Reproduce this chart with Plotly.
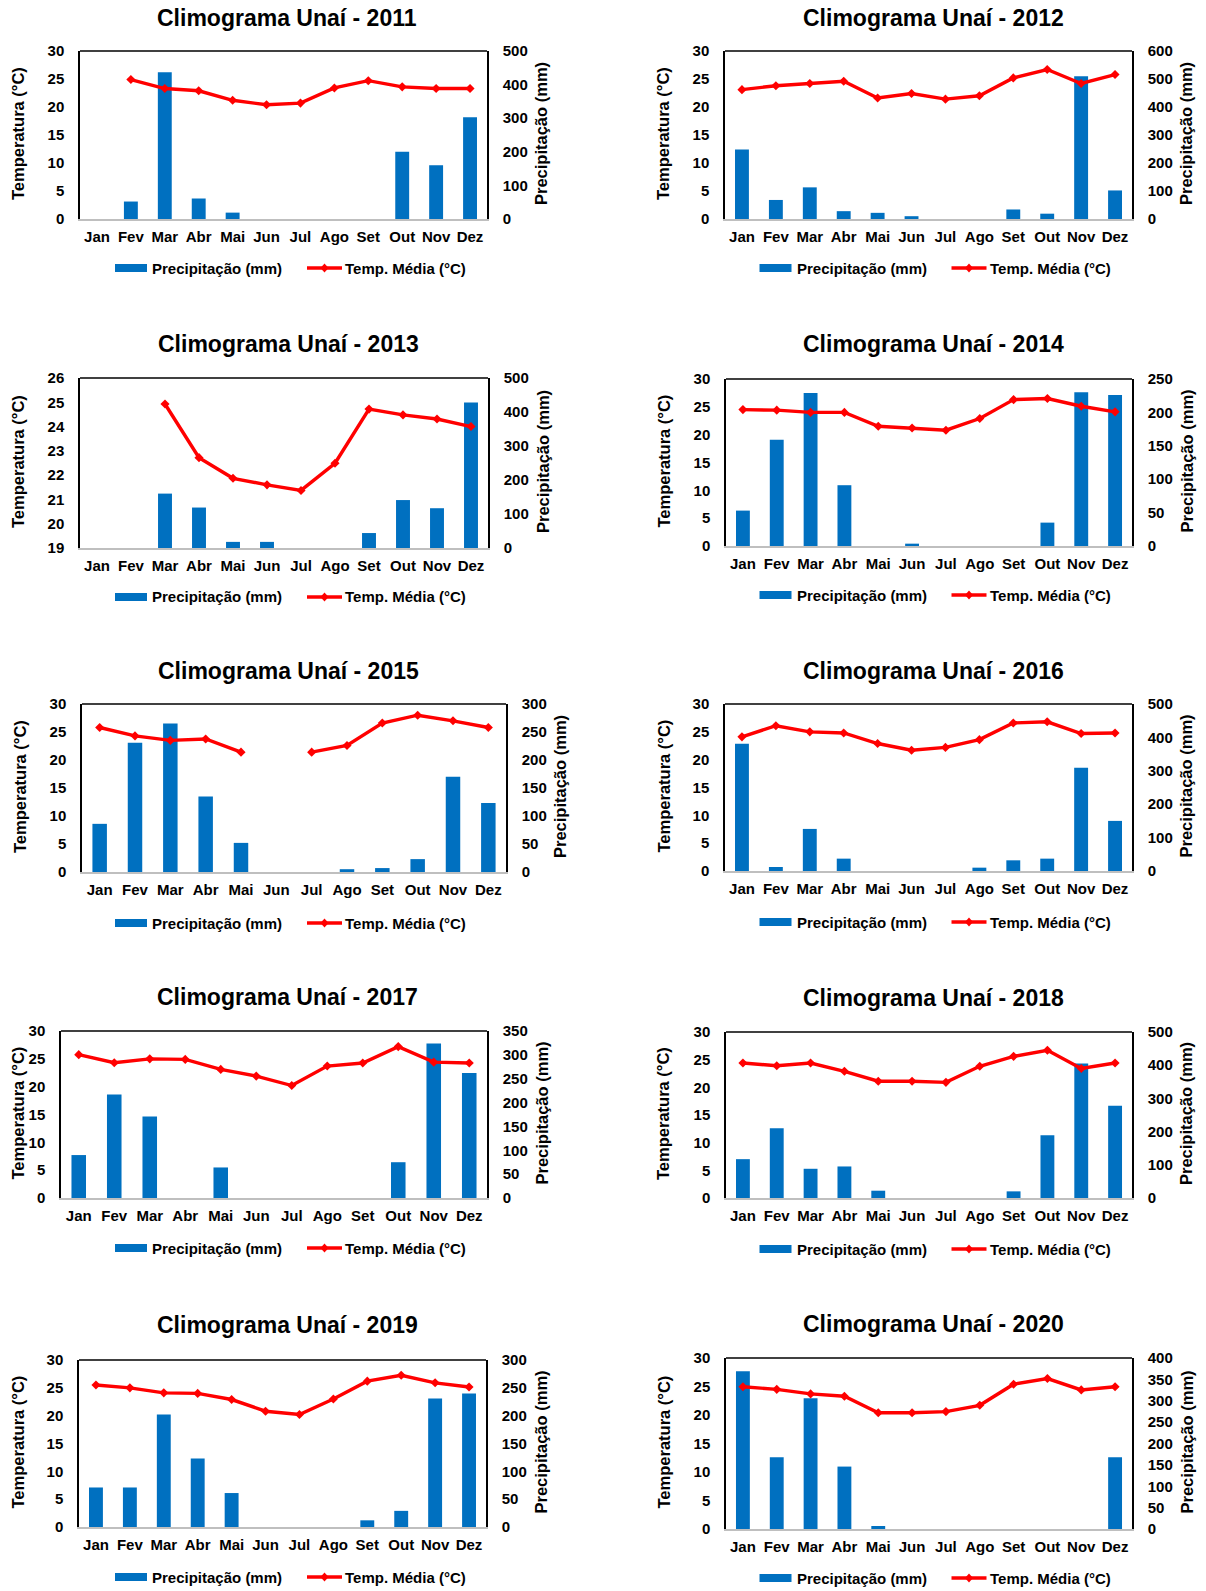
import plotly.graph_objects as go

# ---------------------------------------------------------------------------
# Dados mensais de Unaí (2011-2020): temperatura média (°C) e precipitação (mm)
# ---------------------------------------------------------------------------
months = ["Jan", "Fev", "Mar", "Abr", "Mai", "Jun", "Jul", "Ago", "Set", "Out", "Nov", "Dez"]
years = [2011, 2012, 2013, 2014, 2015, 2016, 2017, 2018, 2019, 2020]

temp_2011 = [None, 24.9, 23.3, 22.9, 21.2, 20.4, 20.7, 23.4, 24.7, 23.6, 23.3, 23.3]
prec_2011 = [0, 52, 437, 61, 19, 0, 0, 0, 0, 200, 160, 303]

temp_2012 = [23.1, 23.8, 24.2, 24.6, 21.6, 22.4, 21.4, 22.0, 25.2, 26.7, 24.2, 25.8]
prec_2012 = [248, 68, 113, 28, 22, 10, 0, 0, 34, 19, 510, 102]

temp_2013 = [None, None, 24.93, 22.72, 21.87, 21.6, 21.37, 22.49, 24.72, 24.48, 24.31, 24.0]
prec_2013 = [0, 0, 160, 119, 18, 18, 0, 0, 44, 141, 117, 428]

temp_2014 = [24.5, 24.4, 24.0, 24.0, 21.5, 21.2, 20.8, 22.9, 26.3, 26.5, 25.1, 24.1]
prec_2014 = [53, 159, 229, 91, 0, 3.5, 0, 0, 0, 35, 230, 226]

temp_2015 = [25.8, 24.3, 23.5, 23.75, 21.4, None, 21.4, 22.6, 26.6, 28.0, 27.0, 25.8]
prec_2015 = [86, 231, 265, 135, 52, 0, 0, 5, 7, 23, 170, 123]

temp_2016 = [24.1, 26.1, 25.0, 24.8, 22.9, 21.7, 22.2, 23.6, 26.6, 26.8, 24.7, 24.8]
prec_2016 = [381, 12, 126, 37, 0, 0, 0, 10, 32, 37, 309, 150]

temp_2017 = [25.75, 24.3, 25.0, 24.9, 23.1, 21.9, 20.2, 23.7, 24.25, 27.2, 24.4, 24.25]
prec_2017 = [90, 217, 171, 0, 64, 0, 0, 0, 0, 75, 324, 262]

temp_2018 = [24.4, 23.9, 24.4, 22.9, 21.1, 21.1, 20.9, 23.8, 25.6, 26.7, 23.4, 24.4]
prec_2018 = [117, 210, 88, 95, 22, 0, 0, 0, 20, 189, 405, 278]

temp_2019 = [25.5, 25.0, 24.1, 24.0, 22.9, 20.8, 20.2, 23.0, 26.2, 27.25, 25.9, 25.15]
prec_2019 = [71, 71, 202, 123, 61, 0, 0, 0, 12, 29, 231, 240]

temp_2020 = [24.96, 24.5, 23.7, 23.3, 20.4, 20.4, 20.6, 21.7, 25.4, 26.4, 24.4, 24.96]
prec_2020 = [369, 168, 306, 146, 7, 0, 0, 0, 0, 0, 0, 168]

temps = [temp_2011, temp_2012, temp_2013, temp_2014, temp_2015,
         temp_2016, temp_2017, temp_2018, temp_2019, temp_2020]
precs = [prec_2011, prec_2012, prec_2013, prec_2014, prec_2015,
         prec_2016, prec_2017, prec_2018, prec_2019, prec_2020]

# Escalas dos eixos (temperatura à esquerda, precipitação à direita)
temp_range = [[0, 30], [0, 30], [19, 26], [0, 30], [0, 30],
              [0, 30], [0, 30], [0, 30], [0, 30], [0, 30]]
temp_step = [5, 5, 1, 5, 5, 5, 5, 5, 5, 5]
prec_top = [500, 600, 500, 250, 300, 500, 350, 500, 300, 400]
prec_step = [100, 100, 100, 50, 50, 100, 50, 100, 50, 50]

# ---------------------------------------------------------------------------
# Geometria da página (pixels)
# ---------------------------------------------------------------------------
W, H = 1206, 1591
FONT = "Liberation Sans, Arial, sans-serif"
BLUE = "#0070C0"
RED = "#FF0000"

# caixa da área de plotagem de cada climograma: esquerda, direita, topo, base
frames = [
    (80, 487, 51, 219), (725, 1132, 51, 219),
    (80, 488, 378, 548), (726, 1132, 379, 546),
    (82, 506, 704, 872), (725, 1132, 704, 871),
    (61, 487, 1031, 1198), (726, 1132, 1032, 1198),
    (79, 486, 1360, 1527), (726, 1132, 1358, 1529),
]
title_xy = [(287, 18), (933, 18), (288, 344), (933, 344), (288, 671),
            (933, 671), (287, 997), (933, 998), (287, 1325), (933, 1324)]
left_title_x = [18, 663, 18, 663, 20, 663, 17, 663, 17, 663]
right_title_x = [541, 1186, 543, 1186, 560, 1185, 541, 1186, 540, 1186]
legend_y = [268, 268, 597, 595, 923, 922, 1248, 1249, 1577, 1578]
legend_cx = [291, 935.5] * 5


def fx(x):
    return x / W


def fy(y):
    return 1 - y / H


fig = go.Figure()
annotations = []
shapes = []

tick_font = dict(family=FONT, size=15, color="#000000", weight="bold")

for i, year in enumerate(years):
    n = i + 1
    xs = "" if n == 1 else str(n)
    yb = "" if n == 1 else str(n)      # eixo de precipitação (base, à direita)
    yt = str(n + 10)                    # eixo de temperatura (sobreposto, à esquerda)
    L, R, T, B = frames[i]

    fig.add_trace(go.Bar(
        x=months, y=precs[i], name="Precipitação (mm)",
        marker=dict(color=BLUE, line=dict(width=0)),
        xaxis="x" + xs, yaxis="y" + yb, showlegend=False,
    ))
    fig.add_trace(go.Scatter(
        x=months, y=temps[i], name="Temp. Média (°C)", mode="lines+markers",
        line=dict(color=RED, width=3.4),
        marker=dict(symbol="diamond", size=7, color=RED),
        connectgaps=False,
        xaxis="x" + xs, yaxis="y" + yt, showlegend=False,
    ))

    fig.layout["xaxis" + xs] = dict(
        domain=[fx(L), fx(R)], anchor="y" + yb, automargin=False,
        type="category", categoryorder="array", categoryarray=months,
        range=[-0.5, 11.5], showgrid=False, zeroline=False,
        showline=True, linecolor="#BFBFBF", linewidth=1.5,
        ticks="", tickfont=tick_font, ticklabelstandoff=3,
        fixedrange=True,
    )
    fig.layout["yaxis" + yb] = dict(
        domain=[fy(B), fy(T)], anchor="x" + xs, side="right", automargin=False,
        range=[0, prec_top[i]], dtick=prec_step[i], tick0=0,
        showgrid=False, zeroline=False,
        showline=True, linecolor="#000000", linewidth=1.5,
        ticks="", tickfont=tick_font, ticklabelstandoff=11,
        fixedrange=True,
    )
    fig.layout["yaxis" + yt] = dict(
        domain=[fy(B), fy(T)], anchor="x" + xs, overlaying="y" + yb, side="left",
        automargin=False,
        range=temp_range[i], dtick=temp_step[i], tick0=temp_range[i][0],
        showgrid=False, zeroline=False,
        showline=True, linecolor="#000000", linewidth=1.5,
        ticks="", tickfont=tick_font, ticklabelstandoff=11,
        fixedrange=True,
    )

    # borda superior da área de plotagem
    shapes.append(dict(type="line", xref="x" + xs + " domain", yref="y" + yb + " domain",
                       x0=0, x1=1, y0=1, y1=1, line=dict(color="#000000", width=1.5)))

    # título do climograma
    tx, ty = title_xy[i]
    annotations.append(dict(
        text=f"Climograma Unaí - {year}", x=fx(tx), y=fy(ty), xref="paper", yref="paper",
        xanchor="center", yanchor="middle", showarrow=False,
        font=dict(family=FONT, size=23, color="#000000", weight="bold"),
    ))

    # títulos dos eixos verticais
    cy = (T + B) / 2 - 1
    annotations.append(dict(
        text="Temperatura (°C)", x=fx(left_title_x[i]), y=fy(cy), xref="paper", yref="paper",
        xanchor="center", yanchor="middle", textangle=-90, showarrow=False,
        font=dict(family=FONT, size=16.5, color="#000000", weight="bold"),
    ))
    annotations.append(dict(
        text="Precipitação (mm)", x=fx(right_title_x[i]), y=fy(cy), xref="paper", yref="paper",
        xanchor="center", yanchor="middle", textangle=-90, showarrow=False,
        font=dict(family=FONT, size=16.5, color="#000000", weight="bold"),
    ))

    # legenda abaixo do gráfico
    lx, ly = legend_cx[i], legend_y[i]
    shapes.append(dict(type="rect", xref="paper", yref="paper",
                       x0=fx(lx - 176), x1=fx(lx - 144), y0=fy(ly + 4), y1=fy(ly - 4),
                       fillcolor=BLUE, line=dict(width=0)))
    annotations.append(dict(
        text="Precipitação (mm)", x=fx(lx - 140), y=fy(ly), xref="paper", yref="paper",
        xanchor="left", yanchor="middle", showarrow=False, borderpad=0,
        font=dict(family=FONT, size=15, color="#000000", weight="bold"),
    ))
    shapes.append(dict(type="line", xref="paper", yref="paper",
                       x0=fx(lx + 16), x1=fx(lx + 51), y0=fy(ly), y1=fy(ly),
                       line=dict(color=RED, width=3.5)))
    mx = lx + 33.5
    shapes.append(dict(
        type="path", xref="paper", yref="paper",
        path=(f"M{fx(mx - 4)},{fy(ly)} L{fx(mx)},{fy(ly - 4.5)} "
              f"L{fx(mx + 4)},{fy(ly)} L{fx(mx)},{fy(ly + 4.5)} Z"),
        fillcolor=RED, line=dict(width=0)))
    annotations.append(dict(
        text="Temp. Média (°C)", x=fx(lx + 53), y=fy(ly), xref="paper", yref="paper",
        xanchor="left", yanchor="middle", showarrow=False, borderpad=0,
        font=dict(family=FONT, size=15, color="#000000", weight="bold"),
    ))

fig.update_layout(
    template="none",
    width=W, height=H, autosize=False,
    margin=dict(l=0, r=0, t=0, b=0, pad=0, autoexpand=False),
    paper_bgcolor="#FFFFFF", plot_bgcolor="#FFFFFF",
    bargap=0.59, showlegend=False,
    annotations=annotations, shapes=shapes,
    font=dict(family=FONT, color="#000000"),
)

fig.write_html("out.html")
